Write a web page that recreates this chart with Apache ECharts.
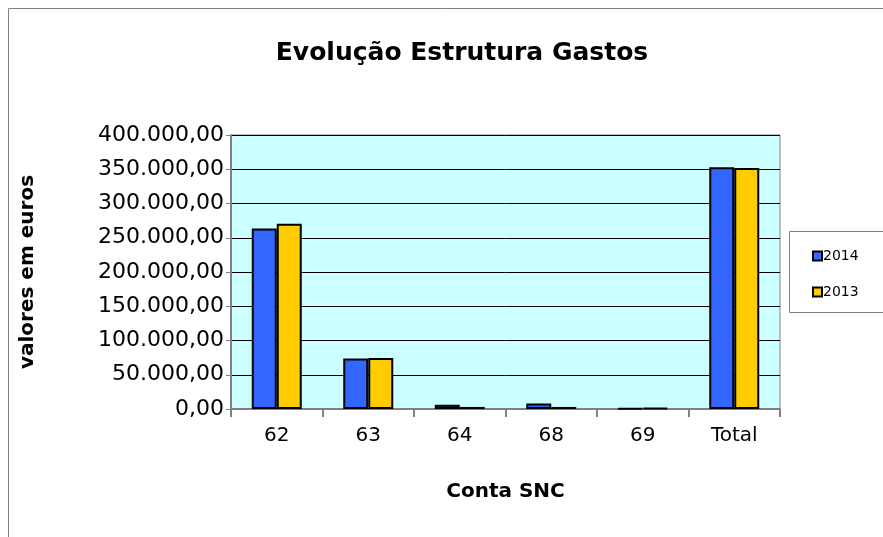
<!DOCTYPE html>
<html>
<head>
<meta charset="utf-8">
<script src="https://cdn.jsdelivr.net/npm/echarts@6/dist/echarts.min.js"></script>
<style>
  html, body { margin: 0; padding: 0; background: #fff; }
  #chart { width: 883px; height: 537px; }
</style>
</head>
<body>
<div id="chart"></div>
<script>
const categories = ['62', '63', '64', '68', '69', 'Total']
const values2014 = [263600, 73800, 6300, 8200, 1000, 352800]
const values2013 = [270500, 74500, 3000, 3000, 1500, 352000]
const yTicks = [0, 50000, 100000, 150000, 200000, 250000, 300000, 350000, 400000]

function fmt(v) {
  // Portuguese style: 350.000,00
  const s = String(Math.round(v)).replace(/\B(?=(\d{3})+(?!\d))/g, '.')
  return s + ',00'
}

const font = 'DejaVu Sans, Liberation Sans, sans-serif'
const chart = echarts.init(document.getElementById('chart'))

chart.setOption({
  animation: false,
  textStyle: { fontFamily: font },
  graphic: [
    {
      type: 'rect',
      shape: { x: 8.5, y: 8.5, width: 890, height: 540 },
      style: { fill: 'none', stroke: '#808080', lineWidth: 1 },
      z: -1
    },
    {
      type: 'rect',
      shape: { x: 789.5, y: 231.5, width: 100, height: 81 },
      style: { fill: '#fff', stroke: '#808080', lineWidth: 1 },
      z: 1
    }
  ],
  title: {
    text: 'Evolução Estrutura Gastos',
    left: 457,
    top: 36,
    textAlign: 'center',
    textStyle: { fontSize: 25, fontWeight: 'bold', color: '#000', fontFamily: font }
  },
  legend: {
    orient: 'vertical',
    left: 807,
    top: 244,
    itemWidth: 9,
    itemHeight: 9,
    itemGap: 22,
    icon: 'rect',
    data: ['2014', '2013'],
    textStyle: { fontSize: 14, color: '#000', padding: [0, 0, 0, -4], fontFamily: font },
    z: 5
  },
  grid: {
    left: 231,
    top: 135,
    width: 549,
    height: 274,
    show: true,
    backgroundColor: '#ccffff',
    borderColor: '#808080',
    borderWidth: 1
  },
  xAxis: {
    type: 'category',
    data: categories,
    name: 'Conta SNC',
    nameLocation: 'middle',
    nameGap: 73,
    nameTextStyle: { fontSize: 20, fontWeight: 'bold', color: '#000', fontFamily: font },
    axisLine: { lineStyle: { color: '#808080', width: 2 } },
    axisTick: { show: true, length: 8, lineStyle: { color: '#808080', width: 2 } },
    axisLabel: { fontSize: 20, color: '#000', margin: 17, fontFamily: font }
  },
  yAxis: {
    type: 'value',
    min: 0,
    max: 400000,
    interval: 50000,
    name: 'valores em euros',
    nameLocation: 'middle',
    nameGap: 193,
    nameRotate: 90,
    nameTextStyle: { fontSize: 20, fontWeight: 'bold', color: '#000', fontFamily: font },
    axisLine: { show: true, lineStyle: { color: '#808080', width: 2 } },
    axisTick: { show: true, length: 5, lineStyle: { color: '#808080' } },
    axisLabel: {
      fontSize: 22,
      color: '#000',
      margin: 7,
      fontFamily: font,
      formatter: v => (yTicks.includes(v) ? fmt(v) : '')
    },
    splitLine: { lineStyle: { color: '#000', width: 1 } }
  },
  series: [
    {
      name: '2014',
      type: 'bar',
      data: values2014,
      barWidth: 25,
      barGap: '0%',
      itemStyle: { color: '#3366ff', borderColor: '#000', borderWidth: 2 }
    },
    {
      name: '2013',
      type: 'bar',
      data: values2013,
      barWidth: 25,
      itemStyle: { color: '#ffcc00', borderColor: '#000', borderWidth: 2 }
    }
  ]
})
</script>
</body>
</html>
